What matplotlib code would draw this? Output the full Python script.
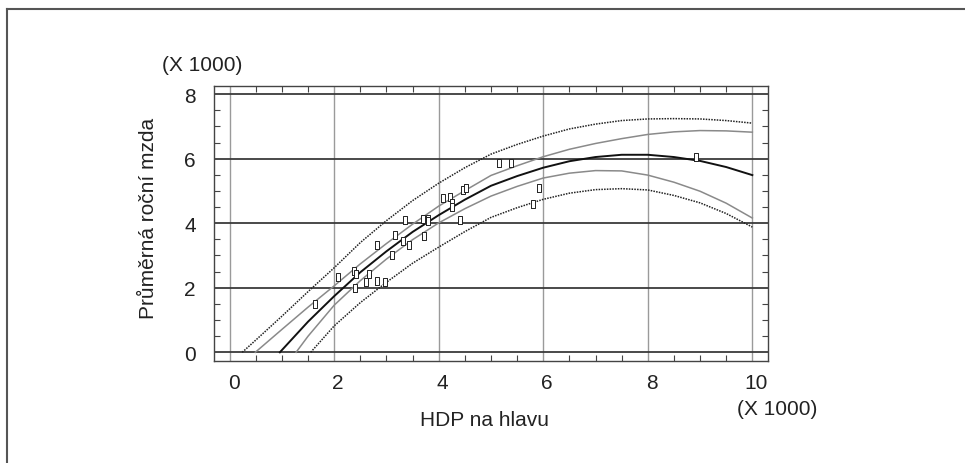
import matplotlib
matplotlib.use("Agg")
import matplotlib.pyplot as plt
from matplotlib.ticker import MultipleLocator
from matplotlib.lines import Line2D
from matplotlib.transforms import ScaledTranslation

plt.rcParams['font.family'] = ['Liberation Sans', 'DejaVu Sans']

# observed points (x in thousands HDP, y in thousands mzda)
obs_x = [1.63, 2.08, 2.37, 2.41, 2.39, 2.60, 2.66, 2.81, 2.97, 2.81, 3.11,
         3.17, 3.32, 3.44, 3.36, 3.69, 3.80, 3.80, 3.71, 4.09, 4.22, 4.26,
         4.25, 4.41, 4.46, 4.53, 5.16, 5.39, 5.81, 5.92, 8.92]
obs_y = [1.50, 2.33, 2.52, 2.43, 2.00, 2.17, 2.43, 2.20, 2.17, 3.31, 3.00,
         3.64, 3.45, 3.31, 4.09, 4.14, 4.14, 4.06, 3.60, 4.78, 4.81, 4.64,
         4.50, 4.11, 5.02, 5.09, 5.88, 5.85, 4.61, 5.09, 6.06]

# fitted curve
fit_x = [0.96, 1.5, 2, 2.5, 3, 3.5, 4, 4.5, 5, 5.5, 6, 6.5, 7, 7.5, 8,
         8.5, 9, 9.5, 10]
fit_y = [0.0, 0.95, 1.74, 2.48, 3.13, 3.73, 4.25, 4.73, 5.16, 5.46, 5.72,
         5.92, 6.05, 6.12, 6.12, 6.05, 5.93, 5.74, 5.49]

# confidence limits (gray)
cu_x = [0.49, 1, 1.5, 2, 2.5, 3, 3.5, 4, 4.5, 5, 5.5, 6, 6.5, 7, 7.5, 8,
        8.5, 9, 9.5, 10]
cu_y = [0.0, 0.71, 1.40, 2.06, 2.74, 3.37, 3.97, 4.53, 5.01, 5.48, 5.78,
        6.06, 6.29, 6.47, 6.62, 6.75, 6.83, 6.87, 6.86, 6.82]
cl_x = [1.27, 1.5, 2, 2.5, 3, 3.5, 4, 4.5, 5, 5.5, 6, 6.5, 7, 7.5, 8,
        8.5, 9, 9.5, 10]
cl_y = [0.0, 0.50, 1.46, 2.22, 2.89, 3.49, 4.01, 4.45, 4.84, 5.14, 5.40,
        5.55, 5.63, 5.62, 5.49, 5.27, 4.99, 4.62, 4.16]

# prediction limits (dotted)
pu_x = [0.24, 0.5, 1, 1.5, 2, 2.5, 3, 3.5, 4, 4.5, 5, 5.5, 6, 6.5, 7, 7.5,
        8, 8.5, 9, 9.5, 10]
pu_y = [0.0, 0.38, 1.12, 1.88, 2.62, 3.40, 4.08, 4.70, 5.24, 5.72, 6.14,
        6.44, 6.70, 6.92, 7.07, 7.18, 7.23, 7.24, 7.23, 7.18, 7.10]
pl_x = [1.55, 2, 2.5, 3, 3.5, 4, 4.5, 5, 5.5, 6, 6.5, 7, 7.5, 8, 8.5, 9,
        9.5, 10]
pl_y = [0.0, 0.82, 1.54, 2.17, 2.76, 3.26, 3.74, 4.18, 4.48, 4.74, 4.93,
        5.04, 5.07, 5.03, 4.86, 4.63, 4.30, 3.88]

x_ticks = [0, 2, 4, 6, 8, 10]
y_ticks = [0, 2, 4, 6, 8]

W, H = 965, 464
fig = plt.figure(figsize=(W / 100, H / 100), dpi=100)
ax = fig.add_axes([214 / W, 1 - 361.7 / H, 554 / W, 275 / H])

# grid
for gx in x_ticks:
    ax.axvline(gx, color='#9a9a9a', lw=1.0, zorder=1)
for gy in y_ticks:
    ax.axhline(gy, color='#3a3a3a', lw=1.3, zorder=1)

ax.plot(pu_x, pu_y, color='#222222', lw=1.1, ls=(0, (1, 0.8)), zorder=2)
ax.plot(pl_x, pl_y, color='#222222', lw=1.1, ls=(0, (1, 0.8)), zorder=2)
ax.plot(cu_x, cu_y, color='#8a8a8a', lw=1.1, zorder=2)
ax.plot(cl_x, cl_y, color='#8a8a8a', lw=1.1, zorder=2)
ax.plot(fit_x, fit_y, color='#111111', lw=1.4, zorder=3)

rect = [(-1, -2), (1, -2), (1, 2), (-1, 2), (-1, -2)]
ax.plot(obs_x, obs_y, ls='none', marker=rect, markersize=6,
        mfc='white', mec='#222222', mew=0.7, zorder=4)

ax.set_xlim(-0.3, 10.3)
ax.set_ylim(-0.26, 8.26)
ax.set_xticks(x_ticks)
ax.set_yticks(y_ticks)
ax.xaxis.set_minor_locator(MultipleLocator(0.5))
ax.yaxis.set_minor_locator(MultipleLocator(0.5))
ax.tick_params(which='major', length=0, labelsize=15, colors='#222222')
ax.tick_params(axis='x', which='major', pad=9)
ax.tick_params(axis='y', which='major', pad=13)
ax.tick_params(which='minor', direction='in', length=4, width=0.8,
               color='#444444', top=True, right=True)
for s in ax.spines.values():
    s.set_color('#444444')
    s.set_linewidth(1.0)

# x labels sit a few pixels right of their gridlines in the original
shift = ScaledTranslation(4 / 100, 0, fig.dpi_scale_trans)
for lab in ax.get_xticklabels():
    lab.set_transform(lab.get_transform() + shift)

txt = dict(fontsize=15, color='#222222')
fig.text(485 / W, 1 - 426 / H, 'HDP na hlavu', ha='center', va='baseline', **txt)
fig.text(148 / W, 1 - 218 / H, 'Průměrná roční mzda', rotation=90,
         ha='center', va='center', **txt)
fig.text(202 / W, 1 - 71 / H, '(X 1000)', ha='center', va='baseline', **txt)
fig.text(777 / W, 1 - 415 / H, '(X 1000)', ha='center', va='baseline', **txt)

# outer border of the figure
fig.add_artist(Line2D([6.5 / W, 1.0], [1 - 10 / H, 1 - 10 / H],
                      transform=fig.transFigure, color='#555555', lw=1.5))
fig.add_artist(Line2D([6.5 / W, 6.5 / W], [0.0, 1 - 10 / H],
                      transform=fig.transFigure, color='#555555', lw=1.5))

fig.savefig('out.png', dpi=100)
